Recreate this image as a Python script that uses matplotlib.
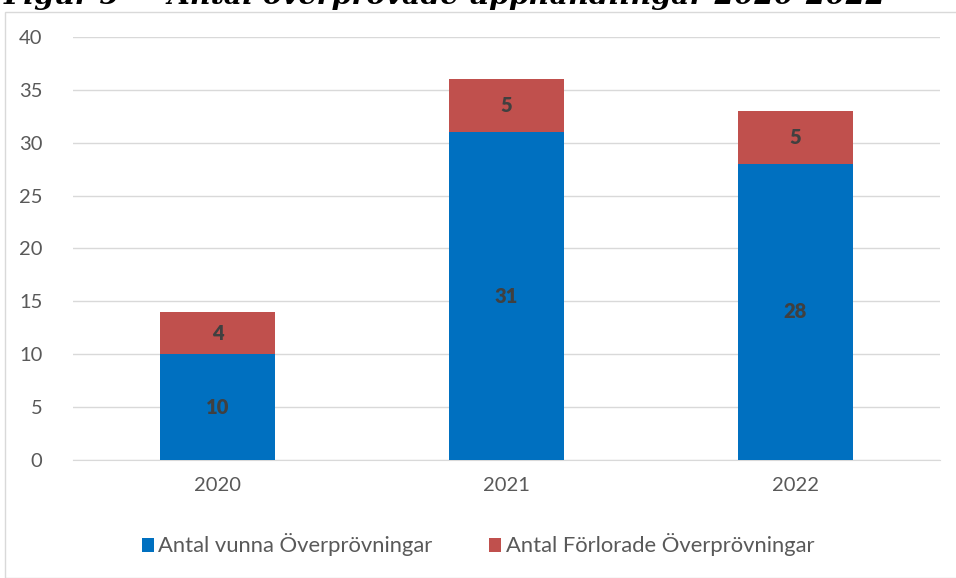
import matplotlib.pyplot as plt
from matplotlib.patches import Rectangle

years = ["2020", "2021", "2022"]
vunna = [10, 31, 28]
forlorade = [4, 5, 5]

plt.rcParams["font.family"] = ["Lato", "DejaVu Sans"]

fig = plt.figure(figsize=(9.56, 5.78), dpi=100)
ax = fig.add_axes([73 / 956, 1 - 460 / 578, 867 / 956, 423 / 578])

# outer chart frame
fig.patches.append(Rectangle((5 / 956, 0), 1, 1 - 12 / 578, transform=fig.transFigure,
                             fill=False, edgecolor="#d9d9d9", linewidth=1))

# title, clipped at the top like the source
fig.text(0.465, 1 + 4 / 578, "Figur 5 \u2014 Antal överprövade upphandlingar 2020-2022",
         ha="center", va="center", fontsize=20.5, fontweight="bold", fontstyle="italic",
         family=["DejaVu Serif"], color="black")

x = range(len(years))
b1 = ax.bar(x, vunna, width=0.4, color="#0070C0", label="Antal vunna Överprövningar", zorder=3)
b2 = ax.bar(x, forlorade, width=0.4, bottom=vunna, color="#C0504D",
            label="Antal Förlorade Överprövningar", zorder=3)

for bars, vals, base in [(b1, vunna, [0] * 3), (b2, forlorade, vunna)]:
    for rect, v, b in zip(bars, vals, base):
        ax.text(rect.get_x() + rect.get_width() / 2, b + v / 2, str(v), ha="center", va="center",
                fontsize=14.5, fontweight="heavy", color="#404040", zorder=4)

ax.set_xlim(-0.5, 2.5)
ax.set_ylim(0, 40)
ax.set_yticks(range(0, 41, 5))
ax.set_xticks(list(x))
ax.set_xticklabels(years)
ax.grid(axis="y", color="#d9d9d9", linewidth=1, zorder=0)
for s in ["top", "right", "left"]:
    ax.spines[s].set_visible(False)
ax.spines["bottom"].set_color("#d9d9d9")
ax.tick_params(length=0, labelsize=14.5, labelcolor="#595959")
ax.tick_params(axis="x", pad=12)
ax.tick_params(axis="y", pad=22)

fig.legend(loc="center", bbox_to_anchor=(0.5, 1 - 545 / 578), ncol=2, frameon=False,
           fontsize=15.8, labelcolor="#595959", handlelength=0.55, handleheight=0.6,
           handletextpad=0.2, columnspacing=2.6)

fig.savefig("out.png", dpi=100)
